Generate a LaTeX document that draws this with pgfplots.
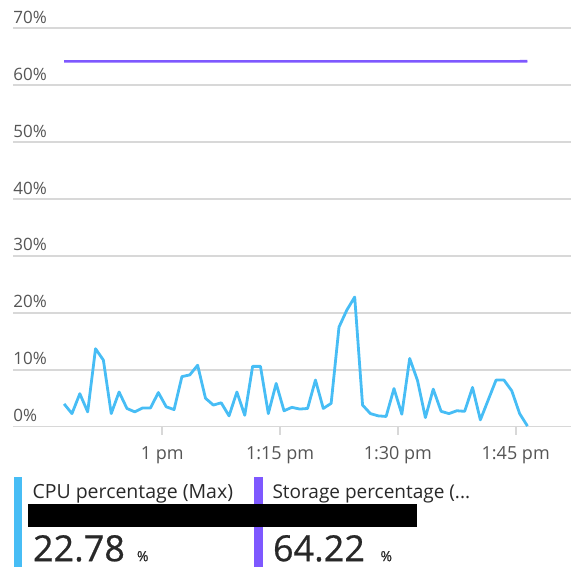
\documentclass[border=0pt]{standalone}
\usepackage{pgfplots}
\pgfplotsset{compat=1.18}
\usepackage{pgfplotstable}
\usepackage{fontspec}
\setmainfont{Open Sans}
\newfontfamily\bignum[FakeBold=0.6]{Open Sans}
\definecolor{cpublue}{RGB}{71,189,245}
\definecolor{storpurple}{RGB}{126,88,255}
\definecolor{gridgray}{RGB}{216,216,216}
\definecolor{ticktext}{RGB}{85,85,85}
\definecolor{legtext}{RGB}{40,40,40}
\pgfplotstableread{
t cpu storage
47.5 4.0 64.2
48.5 2.3 64.2
49.5 5.8 64.2
50.5 2.6 64.2
51.5 13.7 64.2
52.5 11.7 64.2
53.5 2.3 64.2
54.5 6.1 64.2
55.5 3.2 64.2
56.5 2.6 64.2
57.5 3.3 64.2
58.5 3.3 64.2
59.5 6.0 64.2
60.5 3.5 64.2
61.5 3.0 64.2
62.5 8.8 64.2
63.5 9.1 64.2
64.5 10.8 64.2
65.5 5.0 64.2
66.5 3.8 64.2
67.5 4.2 64.2
68.5 1.9 64.2
69.5 6.1 64.2
70.5 2.0 64.2
71.5 10.6 64.2
72.5 10.6 64.2
73.5 2.3 64.2
74.5 7.6 64.2
75.5 2.8 64.2
76.5 3.4 64.2
77.5 3.1 64.2
78.5 3.2 64.2
79.5 8.2 64.2
80.5 3.2 64.2
81.5 4.1 64.2
82.5 17.5 64.2
83.5 20.5 64.2
84.5 22.78 64.2
85.5 3.8 64.2
86.5 2.3 64.2
87.5 1.9 64.2
88.5 1.8 64.2
89.5 6.7 64.2
90.5 2.2 64.2
91.5 12.0 64.2
92.5 8.1 64.2
93.5 1.6 64.2
94.5 6.6 64.2
95.5 2.7 64.2
96.5 2.3 64.2
97.5 2.8 64.2
98.5 2.7 64.2
99.5 6.9 64.2
100.5 1.2 64.2
101.5 4.7 64.2
102.5 8.2 64.2
103.5 8.2 64.2
104.5 6.3 64.2
105.5 2.3 64.2
106.5 0.1 64.22
}\datatable
\begin{document}
\begin{tikzpicture}
\useasboundingbox (-13.3pt,-142.3pt) rectangle (557.7pt,426.7pt);
\begin{axis}[
  at={(0pt,0pt)}, anchor=south west,
  scale only axis,
  width=557.7pt, height=398.4pt,
  xmin=41.03, xmax=112.04,
  ymin=0, ymax=70,
  clip=false,
  axis line style={draw=none},
  ytick={0,10,20,30,40,50,60,70},
  yticklabels={0\%,10\%,20\%,30\%,40\%,50\%,60\%,70\%},
  ymajorgrids,
  major grid style={draw=gridgray, line width=1.6pt},
  ytick style={draw=none},
  yticklabel style={anchor=base west, inner sep=0pt, xshift=8pt, yshift=5pt,
    font=\fontsize{17}{19}\selectfont, text=ticktext},
  xtick={60,75,90,105},
  xtick pos=lower,
  xticklabels={1 pm,1:15 pm,1:30 pm,1:45 pm},
  tick align=outside,
  major tick length=8pt,
  xtick style={draw=gridgray, line width=1.6pt},
  xticklabel style={anchor=base, inner sep=0pt, yshift=-25pt,
    font=\fontsize{18}{20}\selectfont, text=ticktext},
  typeset ticklabels with strut=false,
]
\addplot[draw=storpurple, line width=2.6pt] table[x=t, y=storage] {\datatable};
\addplot[draw=cpublue, line width=2.8pt, line join=round] table[x=t, y=cpu] {\datatable};
\end{axis}
% legend panel
\fill[cpublue] (0.7pt,-50.3pt) rectangle (8.7pt,-140.3pt);
\fill[storpurple] (240.7pt,-50.3pt) rectangle (249.2pt,-140.3pt);
\node[anchor=base west, inner sep=0pt, text=legtext, font=\fontsize{19.5}{21}\selectfont] at (19pt,-71.6pt) {CPU percentage (Max)};
\node[anchor=base west, inner sep=0pt, text=legtext, font=\fontsize{19}{21}\selectfont] at (259pt,-71.6pt) {Storage percentage (...};
\fill[black] (15pt,-77.6pt) rectangle (403.4pt,-100.6pt);
\node[anchor=base west, inner sep=0pt, text=legtext, font=\bignum\fontsize{36}{38}\selectfont] at (19.5pt,-134.5pt) {22.78};
\node[anchor=base west, inner sep=0pt, text=legtext, font=\bignum\fontsize{14}{16}\selectfont] at (123.5pt,-134.5pt) {\%};
\node[anchor=base west, inner sep=0pt, text=legtext, font=\bignum\fontsize{36}{38}\selectfont] at (259.5pt,-134.5pt) {64.22};
\node[anchor=base west, inner sep=0pt, text=legtext, font=\bignum\fontsize{14}{16}\selectfont] at (367pt,-134.5pt) {\%};
\end{tikzpicture}
\end{document}
